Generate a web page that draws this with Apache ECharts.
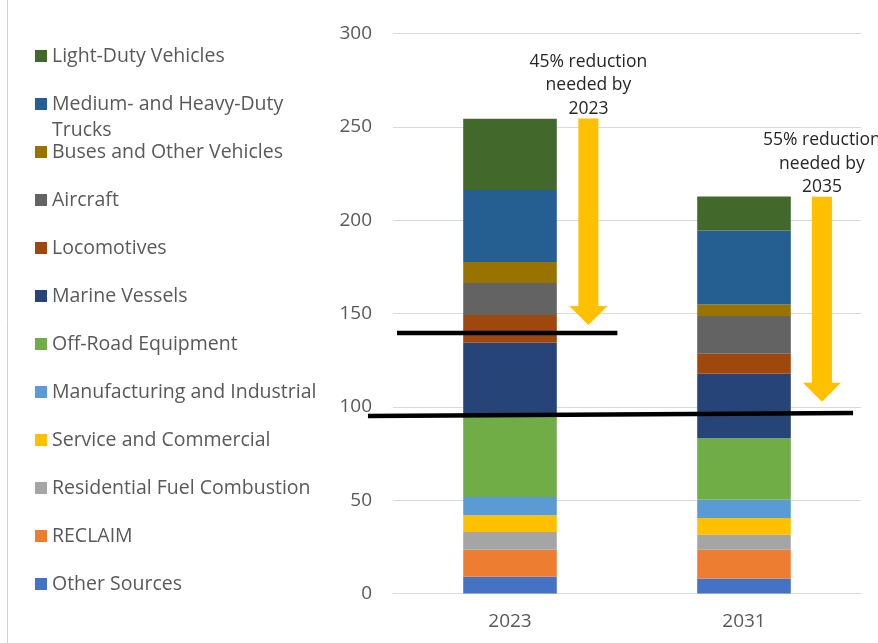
<!DOCTYPE html>
<html><head><meta charset="utf-8">
<script src="https://cdn.jsdelivr.net/npm/echarts@6/dist/echarts.min.js"></script>
<style>html,body{margin:0;padding:0;background:#fff}#c{width:878px;height:643px}</style>
</head><body><div id="c"></div>
<script>
// ---- data ----
const categories = ['2023', '2031'];
const sourceNames = ['Other Sources', 'RECLAIM', 'Residential Fuel Combustion', 'Service and Commercial',
  'Manufacturing and Industrial', 'Off-Road Equipment', 'Marine Vessels', 'Locomotives', 'Aircraft',
  'Buses and Other Vehicles', 'Medium- and Heavy-Duty Trucks', 'Light-Duty Vehicles'];
const values2023 = [9.0, 14.5, 9.5, 8.9, 9.8, 44.5, 38.2, 14.8, 17.2, 11.3, 38.5, 38.2];
const values2031 = [8.1, 15.4, 8.0, 9.0, 9.8, 32.9, 34.6, 10.7, 20.2, 6.3, 39.6, 18.2];
const sourceColors = ['#4472C4', '#ED7D31', '#A5A5A5', '#FFC000', '#5B9BD5', '#70AD47', '#264478',
  '#9E480E', '#636363', '#997300', '#255E91', '#43682B'];
const yMin = 0, yMax = 300, yStep = 50;
// reference lines: [x1 (category units), value1, x2, value2]
const targetLines = [[-0.483, 139.6, 0.459, 139.6], [-0.607, 95.1, 1.466, 96.7]];
// arrows: [x in category units, top value, tip value]
const arrowData = [[0.335, 254.6, 143.9], [1.333, 212.6, 102.8]];
const arrowLabels = ['45% reduction\nneeded by\n2023', '55% reduction\nneeded by\n2035'];

// ---- chart ----
const FONT = 'Open Sans';
const chart = echarts.init(document.getElementById('c'), null, {renderer: 'canvas'});

const barSeries = sourceNames.map((name, i) => ({
  name, type: 'bar', stack: 'total', barWidth: '40%',
  itemStyle: {color: sourceColors[i]},
  data: [values2023[i], values2031[i]],
  z: 2
}));

// legends, top to bottom: reverse of stack order
const legendOrder = sourceNames.slice().reverse();
const legends = legendOrder.map((name, k) => {
  const cy = 56 + 48 * k;
  const isTwoLine = name === 'Medium- and Heavy-Duty Trucks';
  const lh = isTwoLine ? 26 : 24;
  return {
    data: [name], orient: 'vertical', left: 35,
    top: isTwoLine ? cy - lh * 1.5 : cy - lh / 2,
    padding: 0, itemWidth: 12, itemHeight: 12, itemGap: 0,
    icon: 'rect', selectedMode: false,
    formatter: isTwoLine ? '\nMedium- and Heavy-Duty\nTrucks' : '{name}',
    textStyle: {color: '#595959', fontFamily: FONT, fontSize: 19.5, lineHeight: lh}
  };
});

chart.setOption({
  animation: false,
  backgroundColor: '#fff',
  legend: legends,
  grid: {left: 393, right: 17, top: 33.7, bottom: 49.5},
  xAxis: [
    {type: 'category', data: categories,
      axisLine: {lineStyle: {color: '#d9d9d9'}}, axisTick: {show: false},
      axisLabel: {color: '#595959', fontFamily: FONT, fontSize: 19, margin: 19}},
    {type: 'value', min: -0.5, max: 1.5, show: false}
  ],
  yAxis: {
    type: 'value', min: yMin, max: yMax, interval: yStep,
    axisLine: {show: false}, axisTick: {show: false},
    splitLine: {lineStyle: {color: '#d9d9d9', width: 1}},
    axisLabel: {color: '#595959', fontFamily: FONT, fontSize: 19, margin: 21}
  },
  graphic: [{type: 'line', shape: {x1: 7.5, y1: 0, x2: 7.5, y2: 643}, style: {stroke: '#d0d0d0', lineWidth: 1}}],
  series: barSeries.concat([
    {type: 'custom', xAxisIndex: 1, clip: false, z: 5, silent: true,
      data: targetLines,
      renderItem(params, api) {
        const p1 = api.coord([api.value(0), api.value(1)]);
        const p2 = api.coord([api.value(2), api.value(3)]);
        return {type: 'line', shape: {x1: p1[0], y1: p1[1], x2: p2[0], y2: p2[1]},
          style: {stroke: '#000', lineWidth: 4.5}};
      }},
    {type: 'custom', xAxisIndex: 1, clip: false, z: 6, silent: true,
      data: arrowData,
      renderItem(params, api) {
        const pTop = api.coord([api.value(0), api.value(1)]);
        const pTip = api.coord([api.value(0), api.value(2)]);
        const cx = pTop[0], sh = 10, hh = 19, hl = 19;
        const hs = pTip[1] - hl;
        return {type: 'group', children: [
          {type: 'polygon', shape: {points: [[cx - sh, pTop[1]], [cx + sh, pTop[1]], [cx + sh, hs], [cx + hh, hs],
            [cx, pTip[1]], [cx - hh, hs], [cx - sh, hs]]}, style: {fill: '#FFC000'}},
          {type: 'text', x: cx, y: pTop[1] + 2, style: {text: arrowLabels[params.dataIndex], align: 'center',
            verticalAlign: 'bottom', fontFamily: FONT, fontSize: 17.5, lineHeight: 23.5, fill: '#262626'}}
        ]};
      }}
  ])
});
</script></body></html>
